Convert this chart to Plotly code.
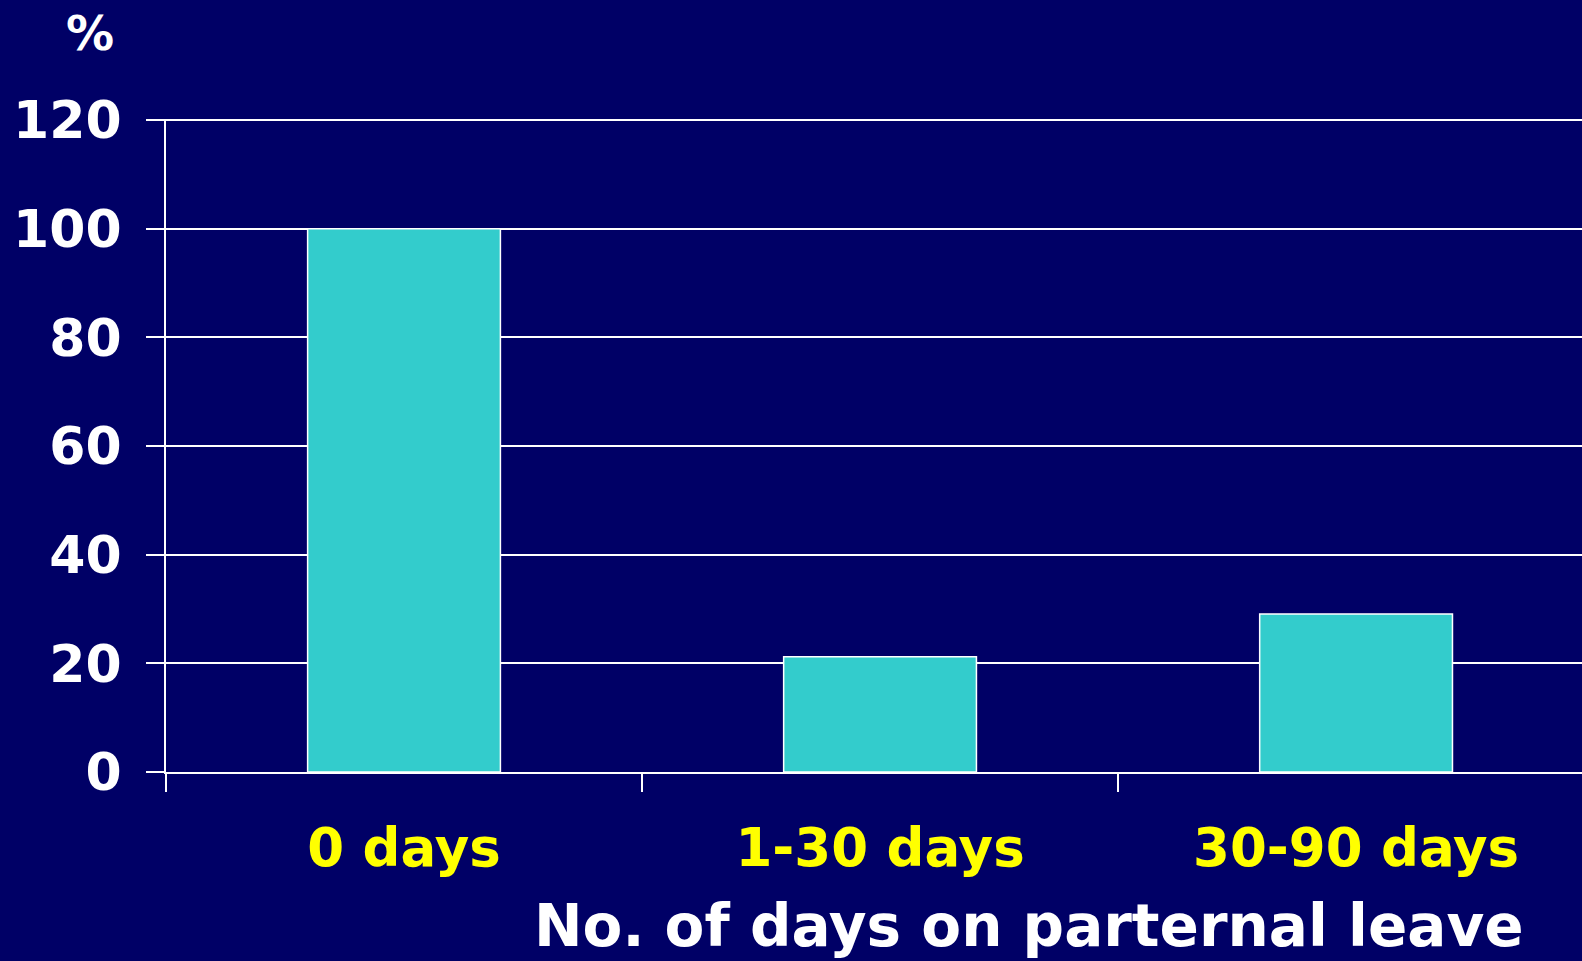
import plotly.graph_objects as go

categories = ["0 days", "1-30 days", "30-90 days"]
values = [100, 21.2, 29.1]
y_ticks = [0, 20, 40, 60, 80, 100, 120]
x_title = "No. of days on parternal leave"
y_unit = "%"

BG = "#000066"
BAR = "#33CCCC"
FONT = "DejaVu Sans"

fig = go.Figure(
    go.Bar(
        x=categories,
        y=values,
        marker=dict(color=BAR, line=dict(color="white", width=1.5)),
    )
)

fig.update_layout(
    width=1582,
    height=961,
    margin=dict(l=166, r=0, t=119, b=189),
    paper_bgcolor=BG,
    plot_bgcolor=BG,
    bargap=0.595,
    showlegend=False,
    font=dict(family=FONT, color="white", size=50, weight="bold"),
)

fig.update_xaxes(
    range=[-0.5, 2.4746],
    tickson="boundaries",
    ticks="outside",
    ticklen=18,
    tickwidth=2,
    tickcolor="white",
    showline=True,
    linecolor="white",
    linewidth=2,
    showgrid=False,
    tickfont=dict(family=FONT, size=53, color="#FFFF00", weight="bold"),
    ticklabelstandoff=28,
)

fig.update_yaxes(
    range=[0, 120.2],
    tickvals=y_ticks,
    ticks="outside",
    ticklen=18,
    tickwidth=2,
    tickcolor="white",
    showline=True,
    linecolor="white",
    linewidth=2,
    showgrid=True,
    gridcolor="white",
    gridwidth=2,
    zeroline=False,
    tickfont=dict(family=FONT, size=52, color="white", weight="bold"),
    ticklabelstandoff=14,
)

fig.add_annotation(
    text=x_title, xref="paper", yref="paper",
    x=(1028.5 - 166) / (1582 - 166), y=(961 - 189 - 926) / (961 - 119 - 189),
    xanchor="center", yanchor="middle", showarrow=False,
    font=dict(family=FONT, size=58, color="white", weight="bold"),
)
fig.add_annotation(
    text=y_unit, xref="paper", yref="paper",
    x=(89.5 - 166) / (1582 - 166), y=(961 - 189 - 33) / (961 - 119 - 189),
    xanchor="center", yanchor="middle", showarrow=False,
    font=dict(family=FONT, size=48, color="white", weight="bold"),
)

fig.write_html("out.html")
